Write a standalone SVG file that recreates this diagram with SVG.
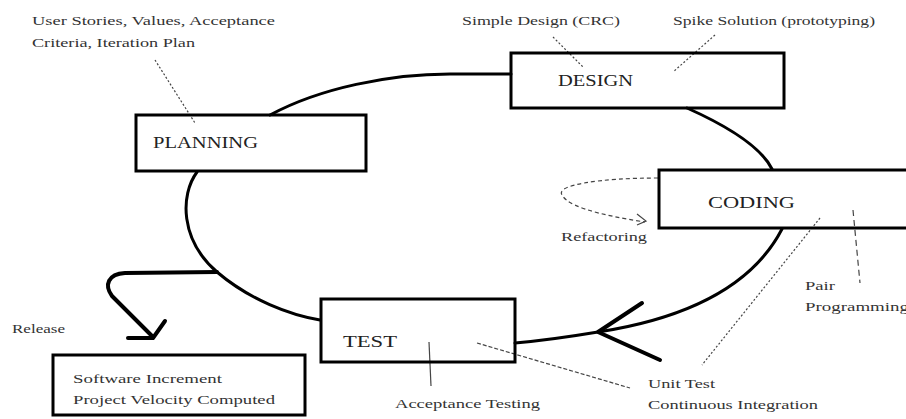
<svg xmlns="http://www.w3.org/2000/svg" width="906" height="419" viewBox="0 0 906 419">
<style>
.box{fill:none;stroke:#000;stroke-width:3}
.cyc{fill:none;stroke:#000;stroke-width:3;stroke-linecap:round}
.arr{fill:none;stroke:#000;stroke-width:4;stroke-linecap:round;stroke-linejoin:round}
.lead{fill:none;stroke:#444;stroke-width:1.2;stroke-dasharray:2 2}
.big{font-family:"Liberation Serif",serif;font-size:16px;fill:#222}
.small{font-family:"Liberation Serif",serif;font-size:13px;fill:#333}
</style>
<rect width="906" height="419" fill="#fff"/>
<g id="connectors">
<path class="cyc" d="M270,115 C320,88 390,74 450,74 L511,74"/>
<path class="cyc" d="M687,108 C725,125 760,145 772,169"/>
<path class="cyc" d="M782,229 Q740,310 598,332 Q550,340 515,343"/>
<path class="cyc" d="M197,172 C180,195 180,240 217,272 C250,300 290,315 320,320"/>
<path class="arr" d="M217,272 L125,273 C108,274 104,285 112,296 L153,337"/>
<path class="arr" d="M128,338 L153,338 L165,321"/>
<path class="arr" d="M642,303 L598,332 L660,360"/>
<path class="lead" d="M155,60 L195,123"/>
<path class="lead" d="M553,37 L583,67"/>
<path class="lead" d="M715,35 L673,72"/>
<path class="lead" style="stroke-dasharray:4 3" d="M658,178 C600,178 555,185 562,195 C570,210 620,218 645,222"/>
<path class="lead" style="stroke-dasharray:none" d="M637,214 L646,221 L637,225"/>
<path class="lead" style="stroke-dasharray:6 4" d="M853,210 L860,283"/>
<path class="lead" d="M820,218 L702,365"/>
<path class="lead" style="stroke-dasharray:4 2" d="M477,343 L630,388"/>
<path class="lead" style="stroke-dasharray:none" d="M429,342 L431,386"/>
</g>
<g id="planning">
<rect class="box" x="136" y="115" width="230" height="56"/>
<text class="big" x="153" y="148" textLength="105" lengthAdjust="spacingAndGlyphs">PLANNING</text>
</g>
<g id="design">
<rect class="box" x="511" y="53" width="273" height="55"/>
<text class="big" x="558" y="86" textLength="75" lengthAdjust="spacingAndGlyphs">DESIGN</text>
</g>
<g id="coding">
<rect class="box" x="659" y="170" width="260" height="58"/>
<text class="big" x="708" y="208" textLength="87" lengthAdjust="spacingAndGlyphs">CODING</text>
</g>
<g id="test">
<rect class="box" x="321" y="299" width="194" height="63"/>
<text class="big" x="343" y="347" textLength="54" lengthAdjust="spacingAndGlyphs">TEST</text>
</g>
<g id="release-box">
<rect class="box" x="53" y="355" width="252" height="60"/>
<text class="small" x="73" y="383" textLength="149" lengthAdjust="spacingAndGlyphs">Software Increment</text>
<text class="small" x="73" y="404" textLength="202" lengthAdjust="spacingAndGlyphs">Project Velocity Computed</text>
</g>
<g id="labels">
<text class="small" x="32" y="25" textLength="243" lengthAdjust="spacingAndGlyphs">User Stories, Values, Acceptance</text>
<text class="small" x="32" y="47" textLength="163" lengthAdjust="spacingAndGlyphs">Criteria, Iteration Plan</text>
<text class="small" x="462" y="25" textLength="158" lengthAdjust="spacingAndGlyphs">Simple Design (CRC)</text>
<text class="small" x="673" y="25" textLength="202" lengthAdjust="spacingAndGlyphs">Spike Solution (prototyping)</text>
<text class="small" x="561" y="241" textLength="86" lengthAdjust="spacingAndGlyphs">Refactoring</text>
<text class="small" x="805" y="290" textLength="30" lengthAdjust="spacingAndGlyphs">Pair</text>
<text class="small" x="805" y="311" textLength="104" lengthAdjust="spacingAndGlyphs">Programming</text>
<text class="small" x="12" y="333" textLength="53" lengthAdjust="spacingAndGlyphs">Release</text>
<text class="small" x="395" y="408" textLength="145" lengthAdjust="spacingAndGlyphs">Acceptance Testing</text>
<text class="small" x="648" y="388" textLength="67" lengthAdjust="spacingAndGlyphs">Unit Test</text>
<text class="small" x="648" y="409" textLength="170" lengthAdjust="spacingAndGlyphs">Continuous Integration</text>
</g>
</svg>
